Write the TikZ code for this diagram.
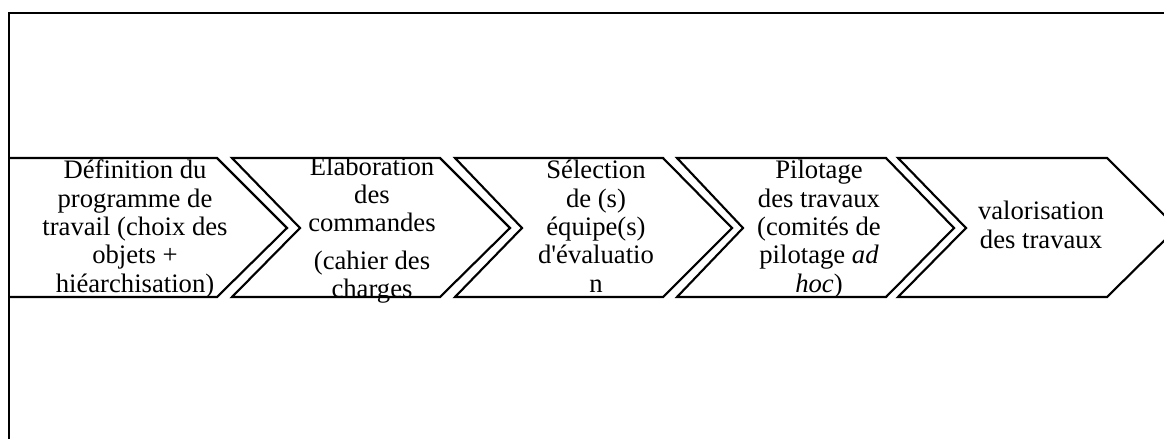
\documentclass[tikz,border=0pt]{standalone}
\usepackage{fontspec}
\newfontfamily\tnr{Liberation Serif}
\begin{document}
\begin{tikzpicture}[x=0.75pt,y=-0.75pt,
  chev/.style={draw=black,line width=1.6pt,line join=miter},
  frameline/.style={draw=black,line width=1.3pt},
  lbl/.style={anchor=base,inner sep=0pt,align=center,font=\tnr\fontsize{20}{21.2}\selectfont}]
\useasboundingbox (0,0) rectangle (1164,439);
\begin{scope}
\clip (0,0) rectangle (1164,439);
% frame
\draw[frameline] (9,445) -- (9,13) -- (1170,13);
% text (anchor base = baseline of last line)
\node[lbl] (t1) at (135,292) {Définition du\\programme de\\travail (choix des\\objets +\\hiéarchisation)};
\begin{scope}
\clip (0,158.5) rectangle (1164,439);
\node[lbl] (t2) at (372,297.5) {Élaboration\\des\\commandes\\[7pt](cahier des\\charges};
\end{scope}
\node[lbl] (t3) at (596,292) {Sélection\\de (s)\\équipe(s)\\d'évaluatio\\n};
\node[lbl] (t4) at (819,292) {Pilotage\\des travaux\\(comités de\\pilotage \textit{ad}\\\textit{hoc})};
\node[lbl] (t5) at (1041,248) {valorisation\\des travaux};
% chevrons
\draw[chev] (9,158) -- (217,158) -- (287,228) -- (217,297) -- (9,297);
\draw[chev] (232,158) -- (440,158) -- (510,228) -- (440,297) -- (232,297) -- (300,228) -- cycle;
\draw[chev] (455,158) -- (663,158) -- (732,228) -- (663,297) -- (455,297) -- (522,228) -- cycle;
\draw[chev] (677,158) -- (886,158) -- (954,228) -- (886,297) -- (677,297) -- (743,228) -- cycle;
\draw[chev] (898,158) -- (1107,158) -- (1177,228) -- (1107,297) -- (898,297) -- (966,228) -- cycle;
\end{scope}
\end{tikzpicture}
\end{document}
